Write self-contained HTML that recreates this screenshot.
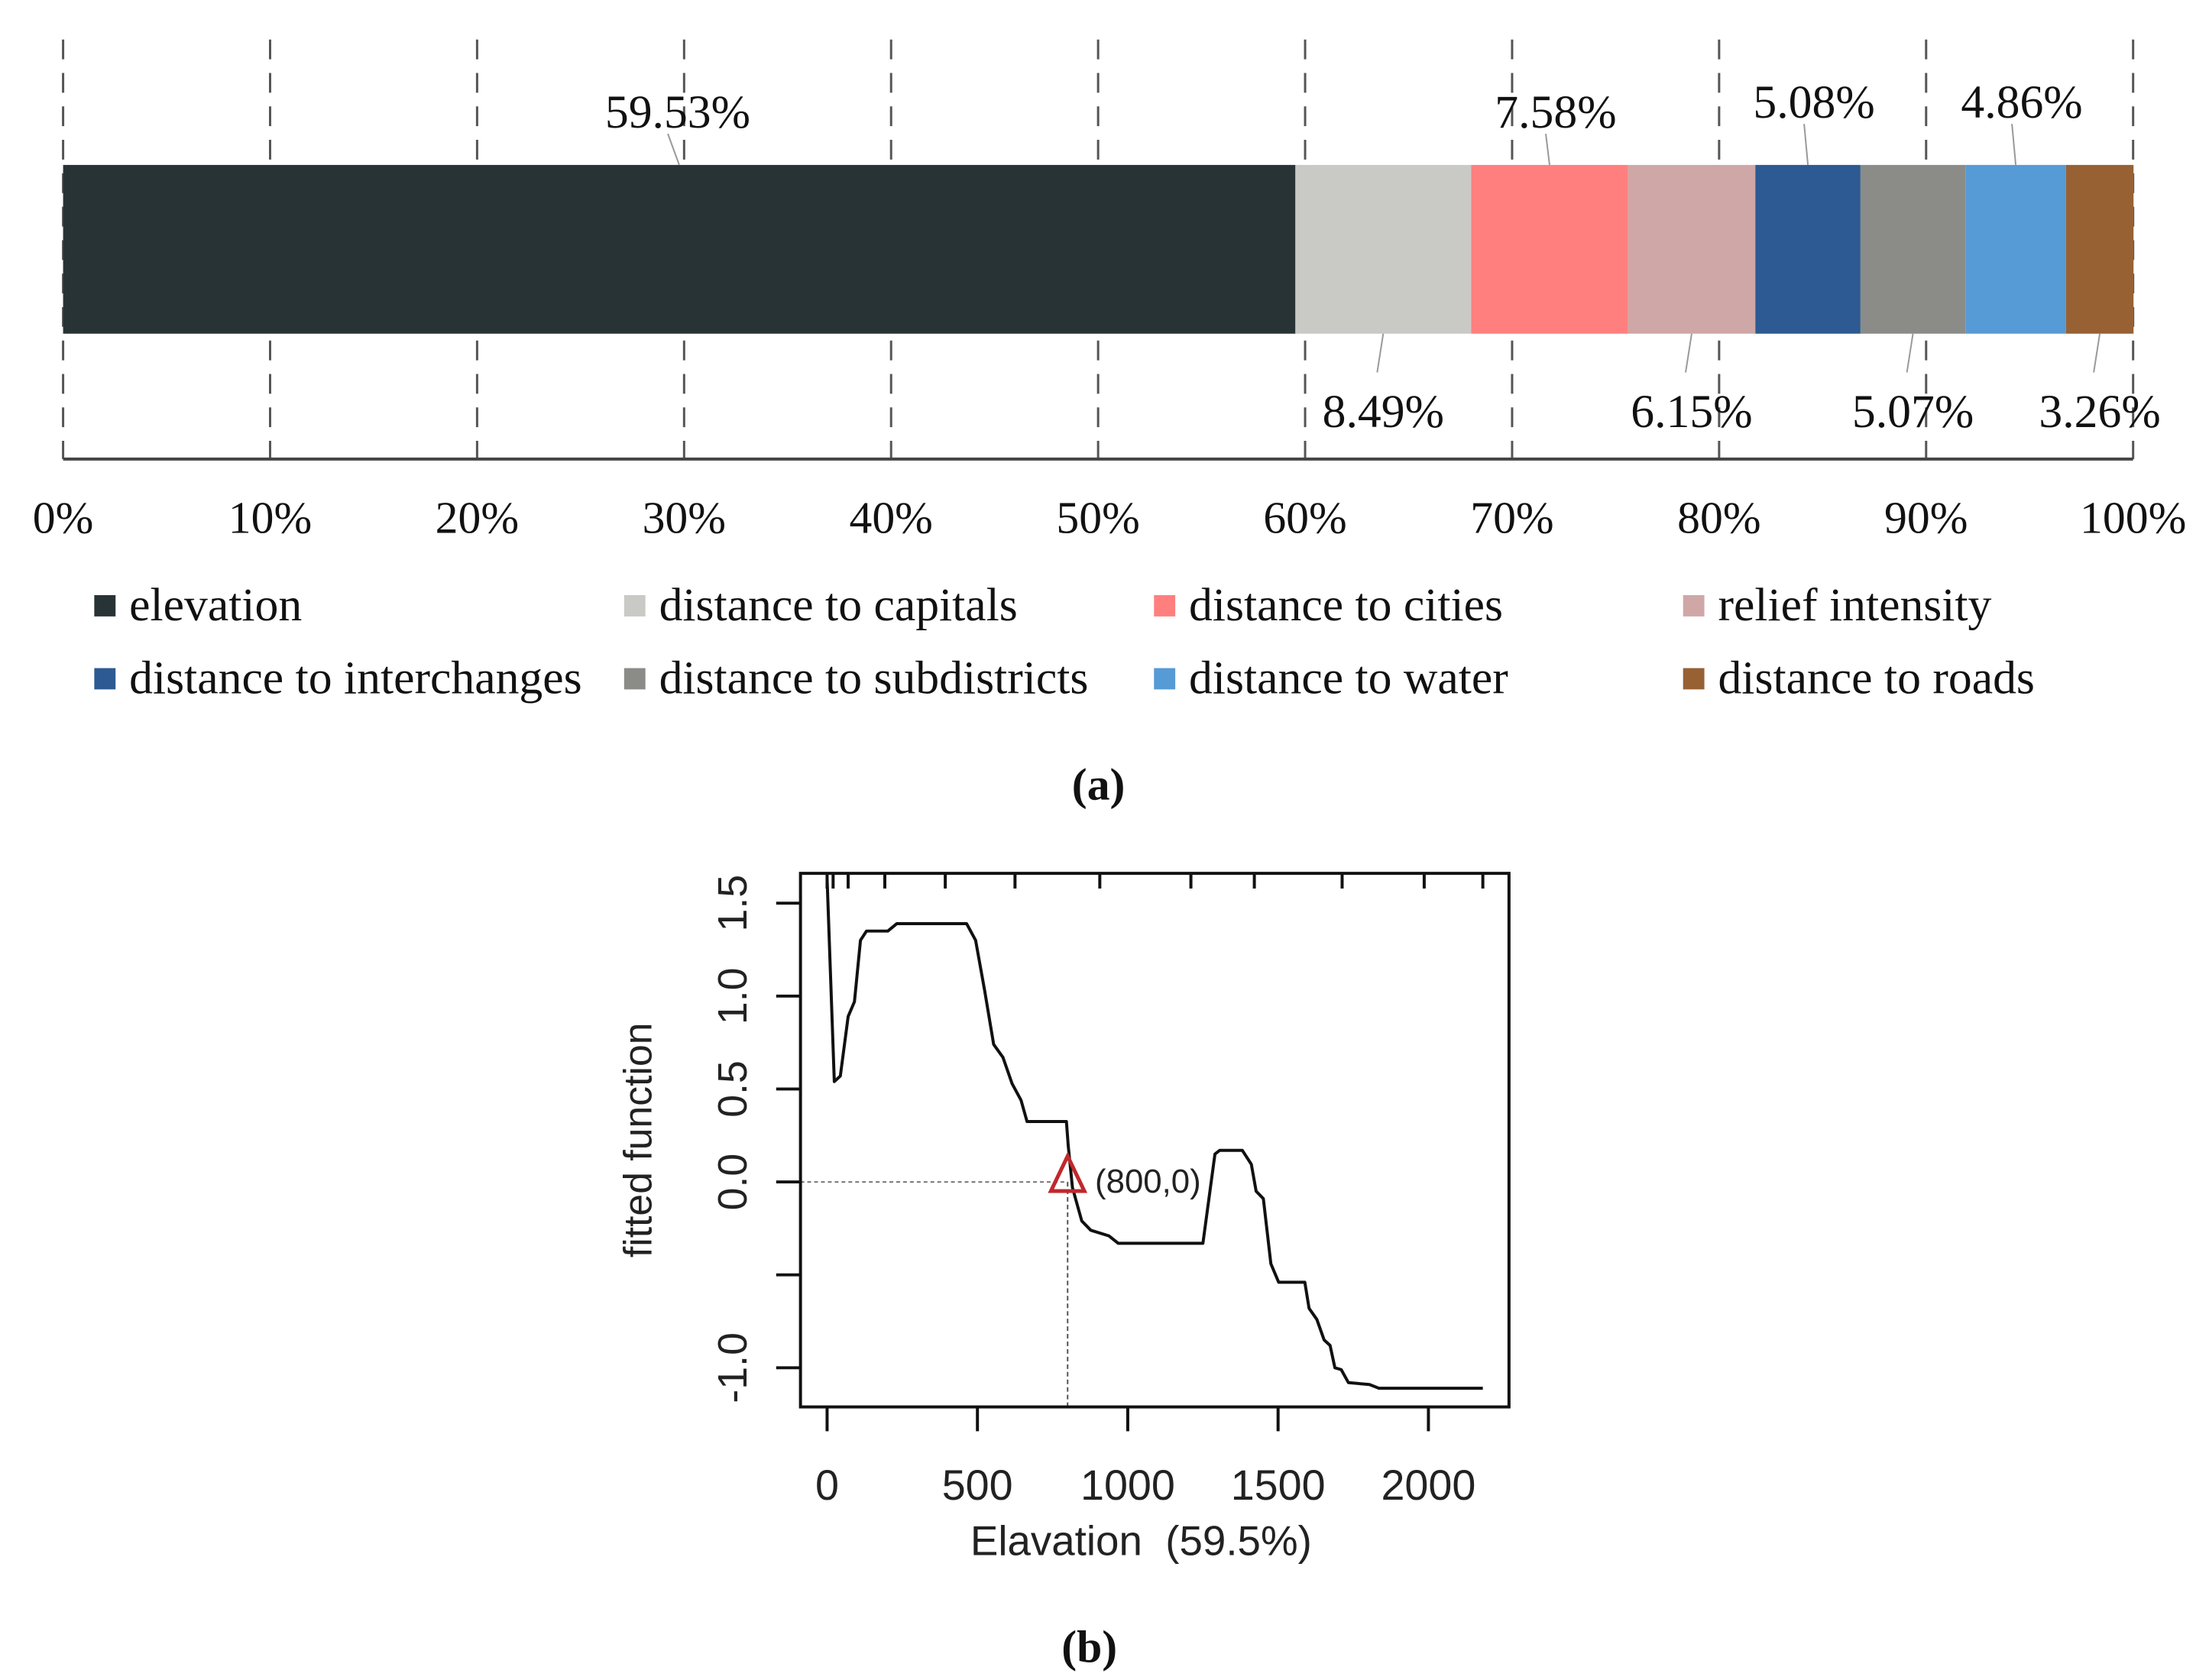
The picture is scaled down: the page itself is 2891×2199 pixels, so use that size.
<!DOCTYPE html>
<html><head><meta charset="utf-8"><style>
html,body{margin:0;padding:0;background:#fff;}
svg{display:block;}
</style></head><body>
<svg id="fig" width="2891" height="2199" viewBox="0 0 2891 2199" xmlns="http://www.w3.org/2000/svg">
<g transform="scale(0.9949)">
<g id="chartA"></g>
<g id="chartB"></g>
</g>
</svg>
<script>
// ---- Chart (a) data ----
const factorNames = ["elevation","distance to capitals","distance to cities","relief intensity","distance to interchanges","distance to subdistricts","distance to water","distance to roads"];
const factorValues = [59.53, 8.49, 7.58, 6.15, 5.08, 5.07, 4.86, 3.26];
const factorColors = ["#283335","#C9CAC6","#FF7F7F","#CFA7A6","#2D5A92","#8B8C88","#569AD6","#976133"];
const pctTicks = [0,10,20,30,40,50,60,70,80,90,100];
const labelAbove = [true,false,true,false,true,false,true,false];

// ---- Chart (b) data ----
const elevX = [0,24,44,70,91,111,131,202,232,464,494,524,554,585,615,645,665,796,802,816,847,877,937,968,1250,1290,1306,1381,1411,1427,1451,1476,1502,1589,1603,1629,1653,1673,1689,1710,1734,1804,1835,2181];
const fitY = [1.63,0.54,0.57,0.89,0.97,1.30,1.35,1.35,1.39,1.39,1.30,1.03,0.74,0.67,0.53,0.44,0.325,0.325,0.195,-0.03,-0.21,-0.26,-0.29,-0.33,-0.33,0.15,0.17,0.17,0.095,-0.05,-0.09,-0.44,-0.54,-0.54,-0.68,-0.74,-0.85,-0.88,-1.00,-1.01,-1.08,-1.09,-1.11,-1.11];
const rugX = [0,20,70,192,393,625,907,1210,1421,1713,1986,2181];
const xTicksB = [0,500,1000,1500,2000];
const yTicksB = [1.5,1.0,0.5,0.0,-0.5,-1.0];
const yTickLabelsB = ["1.5","1.0","0.5","0.0","","-1.0"];
const markPoint = [800,0];

const NS="http://www.w3.org/2000/svg";
function mk(parent,tag,attrs,text){const e=document.createElementNS(NS,tag);for(const k in attrs)e.setAttribute(k,attrs[k]);if(text!==undefined)e.textContent=text;parent.appendChild(e);return e;}

// ===== Chart A =====
const A=document.getElementById('chartA');
const ax0=83, ax1=2806, barTop=217, barBot=439, axisY=604;
const sx=v=>ax0+(ax1-ax0)*v/100;
const serif='"Liberation Serif", serif';
pctTicks.forEach(t=>{
  const g=mk(A,'line',{x1:sx(t),x2:sx(t),y1:52,y2:axisY,stroke:'#555','stroke-width':3,'stroke-dasharray':'26 18'});
  
  
  const tl=mk(A,'text',{x:sx(t),y:701,'text-anchor':'middle','font-family':serif,'font-size':60,fill:'#111'},t+'%');
  
  
});
let cum=0;
factorValues.forEach((v,i)=>{
  const x0=sx(cum), x1=sx(cum+v);
  const r=mk(A,'rect',{x:x0,y:barTop,width:x1-x0,height:barBot-barTop,fill:factorColors[i]});
  
  
  const cx=(x0+x1)/2;
  let lx=cx, ly;
  if(labelAbove[i]){
    ly = i===0?148:(i===2?148:135);
    if(i===0) lx=cx-10;
    mk(A,'line',{x1:cx,y1:barTop,x2:lx-5,y2:ly+28,stroke:'#999','stroke-width':2});
    const t=mk(A,'text',{x:lx+8,y:ly+20,'text-anchor':'middle','font-family':serif,'font-size':62,fill:'#111'},v.toFixed(2)+'%');
    
    
  } else {
    ly=540;
    mk(A,'line',{x1:cx,y1:barBot,x2:cx-8,y2:ly-50,stroke:'#999','stroke-width':2});
    const t=mk(A,'text',{x:cx,y:ly+22,'text-anchor':'middle','font-family':serif,'font-size':62,fill:'#111'},v.toFixed(2)+'%');
    
    
  }
  cum+=v;
});
mk(A,'line',{x1:ax0,x2:ax1,y1:axisY,y2:axisY,stroke:'#444','stroke-width':4});
const legX=[124,821,1518,2214], legY=[797,893];
factorNames.forEach((n,i)=>{
  const x=legX[i%4], y=legY[Math.floor(i/4)];
  const g=mk(A,'g',{});
  
  
  mk(g,'rect',{x:x,y:y-14,width:28,height:28,fill:factorColors[i]});
  mk(g,'text',{x:x+46,y:y+19,'font-family':serif,'font-size':62,fill:'#111'},n);
});
const la=mk(A,'text',{x:1445,y:1052,'text-anchor':'middle','font-family':serif,'font-size':60,'font-weight':'bold',fill:'#111'},'(a)');



// ===== Chart B =====
const B=document.getElementById('chartB');
const bx0=1053,bx1=1985,by0=1149,by1=1851;
const X=v=>1088+(v-0)*(1879-1088)/2000;
const Y=v=>1555-v*244.5;
const sans='"Liberation Sans", "DejaVu Sans", sans-serif';
const clip=mk(B,'clipPath',{id:'pc'});
mk(clip,'rect',{x:bx0,y:by0,width:bx1-bx0,height:by1-by0});
mk(B,'line',{x1:bx0,y1:Y(markPoint[1]),x2:X(markPoint[0]),y2:Y(markPoint[1]),stroke:'#777','stroke-width':2,'stroke-dasharray':'5 4'});
mk(B,'line',{x1:X(markPoint[0]),y1:Y(markPoint[1]),x2:X(markPoint[0]),y2:by1,stroke:'#555','stroke-width':2,'stroke-dasharray':'6 4'});
const pts=elevX.map((x,i)=>X(x)+','+Y(fitY[i])).join(' ');
const pl=mk(B,'polyline',{points:pts,fill:'none',stroke:'#111','stroke-width':4,'clip-path':'url(#pc)','stroke-linejoin':'round'});


rugX.forEach(r=>{mk(B,'line',{x1:X(r),x2:X(r),y1:by0,y2:by0+20,stroke:'#111','stroke-width':4});});
const fr=mk(B,'rect',{x:bx0,y:by0,width:bx1-bx0,height:by1-by0,fill:'none',stroke:'#111','stroke-width':4});


xTicksB.forEach(t=>{
  mk(B,'line',{x1:X(t),x2:X(t),y1:by1,y2:by1+32,stroke:'#111','stroke-width':4});
  const tl=mk(B,'text',{x:X(t),y:1973,'text-anchor':'middle','font-family':sans,'font-size':56,fill:'#222'},String(t));
  
  
});
yTicksB.forEach((t,i)=>{
  mk(B,'line',{x1:bx0-32,x2:bx0,y1:Y(t),y2:Y(t),stroke:'#111','stroke-width':4});
  if(yTickLabelsB[i]){
    const tl=mk(B,'text',{x:0,y:0,'text-anchor':'middle','font-family':sans,'font-size':54,fill:'#222',transform:'translate(982,'+Y(t)+') rotate(-90)'},yTickLabelsB[i]);
    
    
  }
});
const tri=mk(B,'polygon',{points:(X(800))+','+(Y(0)-34)+' '+(X(800)-22)+','+(Y(0)+12)+' '+(X(800)+22)+','+(Y(0)+12),fill:'none',stroke:'#C0282D','stroke-width':5});


mk(B,'text',{x:X(800)+36,y:Y(0)+14,'font-family':sans,'font-size':44,fill:'#222'},'(800,0)');
const xt=mk(B,'text',{x:1501,y:2046,'text-anchor':'middle','font-family':sans,'font-size':55,fill:'#222','xml:space':'preserve'},'Elavation\u00a0\u00a0(59.5%)');


const yt=mk(B,'text',{x:0,y:0,'text-anchor':'middle','font-family':sans,'font-size':52,fill:'#222',transform:'translate(857,1500) rotate(-90)'},'fitted function');


const lb=mk(B,'text',{x:1433,y:2186,'text-anchor':'middle','font-family':serif,'font-size':60,'font-weight':'bold',fill:'#111'},'(b)');


</script>
</body></html>
